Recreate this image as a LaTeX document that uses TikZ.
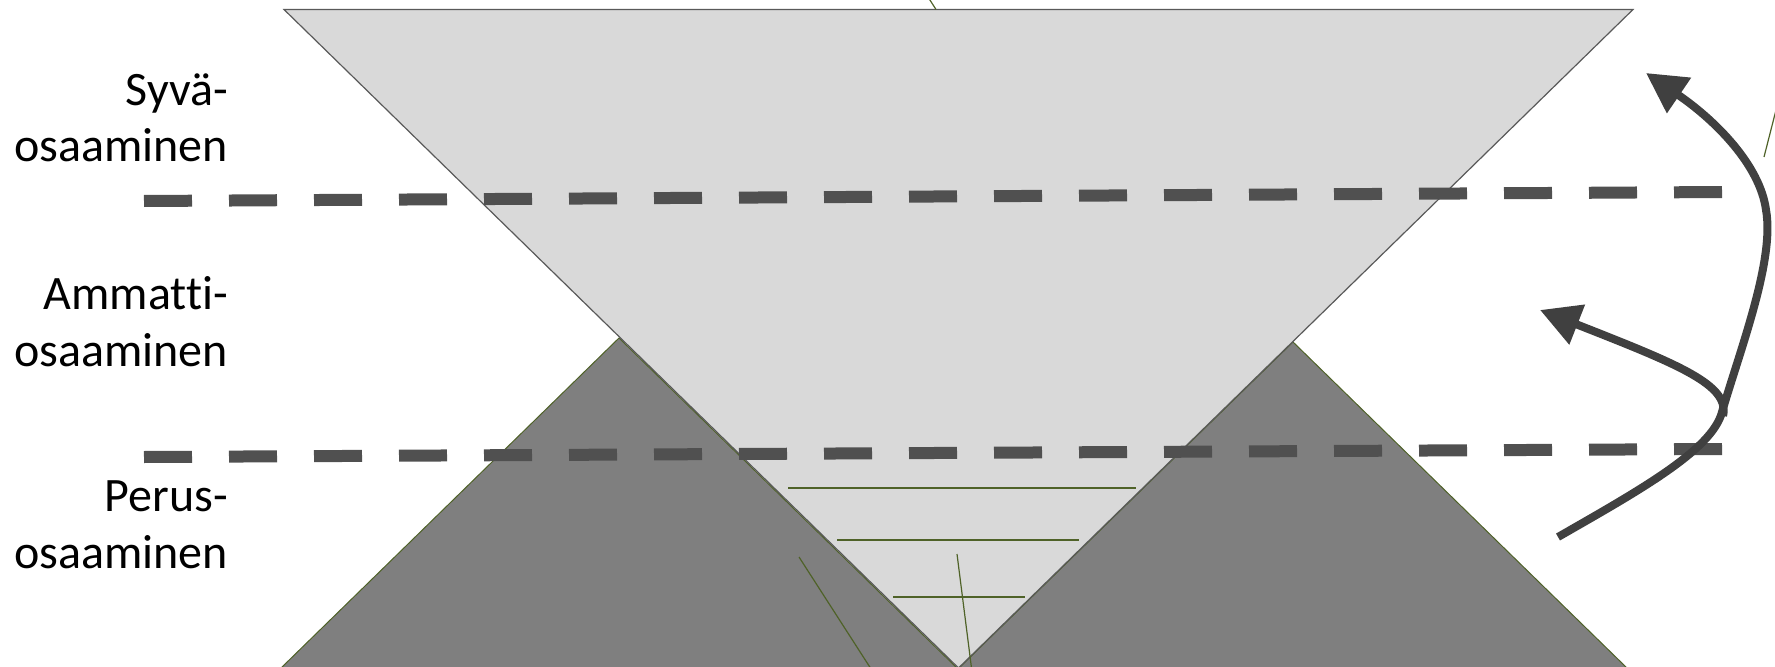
\documentclass[tikz,border=0pt]{standalone}
\usepackage{fontspec}
\setmainfont{Carlito}[Ligatures=NoCommon]
\usetikzlibrary{arrows.meta}
\definecolor{lightfill}{HTML}{D9D9D9}
\definecolor{darkfill}{HTML}{7F7F7F}
\definecolor{edgegray}{HTML}{595959}
\definecolor{olivegreen}{HTML}{4F6228}
\definecolor{dashgray}{HTML}{505050}
\definecolor{arrowgray}{HTML}{404040}
\begin{document}
\begin{tikzpicture}[x=1bp,y=-1bp,
  lighttri/.style={fill=lightfill, draw=edgegray, line width=1.2bp, line join=miter},
  darktri/.style={fill=darkfill, draw=olivegreen, line width=1bp},
  levelline/.style={draw=dashgray, line width=12bp, dash pattern=on 48bp off 37bp},
  greenline/.style={draw=olivegreen, line width=1.2bp},
  curvearrow/.style={draw=arrowgray, line width=8bp, -{Triangle[length=40bp,width=41bp]}},
  levellabel/.style={anchor=base east, align=right, inner sep=0pt,
    font=\fontsize{48bp}{56.5bp}\selectfont}
]
\useasboundingbox (0,0) rectangle (1775,667);
\clip (0,0) rectangle (1775,667);

% dark triangles
\draw[darktri] (619,338) -- (280,669) -- (958,669) -- cycle;
\draw[darktri] (1293,342) -- (958,669) -- (1628,669) -- cycle;
% light inverted triangle
\draw[lighttri] (284,9.5) -- (1633,9.5) -- (958.5,668) -- cycle;

% thin olive lines
\draw[greenline] (928,-3) -- (936,9.5);
\draw[greenline] (1776,110) -- (1764,157);
\draw[greenline] (788,488) -- (1136,488);
\draw[greenline] (837,540) -- (1079,540);
\draw[greenline] (893,597) -- (1025,597);
\draw[greenline] (799,557) -- (873,672);
\draw[greenline] (957,554) -- (972,672);

% level separators
\coordinate (upL) at (144,201);
\coordinate (upR) at (1723,192);
\coordinate (loL) at (144,457);
\coordinate (loR) at (1723,449);
\draw[levelline] (upL) -- (upR);
\draw[levelline] (loL) -- (loR);

% labels (anchor = baseline of last line)
\node[levellabel] (syva) at (228,162) {Syvä-\\osaaminen};
\node[levellabel] (ammatti) at (228,366) {Ammatti-\\osaaminen};
\node[levellabel] (perus) at (228,568) {Perus-\\osaaminen};

% arrows
\coordinate (bigstart) at (1558,537);
\coordinate (bigtip) at (1646,73);
\coordinate (smallstart) at (1723,416);
\coordinate (smalltip) at (1540,310);
\draw[curvearrow] (bigstart) .. controls (1640,490) and (1712,450) .. (1722,412)
  .. controls (1740,350) and (1775,260) .. (1766,210)
  .. controls (1760,165) and (1715,120) .. (bigtip);
\draw[curvearrow] (smallstart) .. controls (1730,385) and (1680,365) .. (smalltip);
\end{tikzpicture}
\end{document}
